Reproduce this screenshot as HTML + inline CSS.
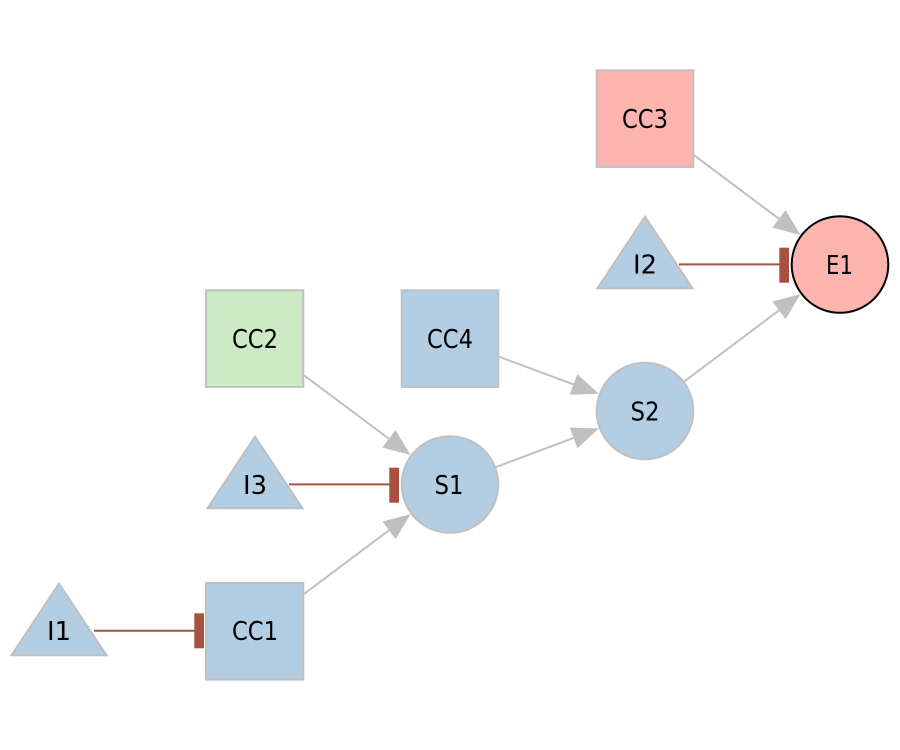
<!DOCTYPE html>
<html>
<head>
<meta charset="utf-8">
<style>
html,body{margin:0;padding:0;background:#ffffff;}
svg{display:block;}
text{font-family:"DejaVu Sans","Liberation Sans",sans-serif;font-size:26px;fill:#000;}
</style>
</head>
<body>
<svg width="900" height="750" viewBox="0 0 900 750" xmlns="http://www.w3.org/2000/svg">
  <rect x="0" y="0" width="900" height="750" fill="#ffffff"/>

  <!-- activation edges -->
  <g stroke="#c0c0c0" stroke-width="2" fill="none">
    <line x1="694" y1="155.2" x2="778.9" y2="218.8"/>
    <line x1="684.4" y1="381.4" x2="779" y2="310.3"/>
    <line x1="499" y1="356.7" x2="573.5" y2="384.4"/>
    <line x1="496.1" y1="467.1" x2="573.6" y2="437.9"/>
    <line x1="304" y1="375.3" x2="388.9" y2="438.8"/>
    <line x1="304" y1="594" x2="389" y2="530.3"/>
  </g>
  <g fill="#c0c0c0" stroke="none">
    <polygon points="800.5,235 772.3,227.6 785.5,210"/>
    <polygon points="800.6,294.1 785.6,319.1 772.4,301.5"/>
    <polygon points="598.8,393.8 569.7,394.7 577.3,374.1"/>
    <polygon points="598.9,428.4 577.5,448.2 569.7,427.6"/>
    <polygon points="410.5,455 382.3,447.6 395.5,430"/>
    <polygon points="410.6,514.1 395.6,539.1 382.4,521.5"/>
  </g>

  <!-- inhibition edges -->
  <g stroke="#aa5241" stroke-width="2">
    <line x1="679" y1="264.4" x2="781" y2="264.4"/>
    <line x1="289" y1="484.4" x2="391" y2="484.4"/>
    <line x1="94" y1="630.7" x2="196" y2="630.7"/>
  </g>
  <g fill="#a95040">
    <rect x="779.3" y="247.7" width="9.7" height="35"/>
    <rect x="389.3" y="467.7" width="9.7" height="35"/>
    <rect x="194.3" y="613.3" width="9.7" height="35"/>
  </g>

  <!-- boxes -->
  <g stroke="#c0c0c0" stroke-width="2">
    <rect x="596.7" y="70.3" width="96.6" height="96.6" fill="#fbb4ae"/>
    <rect x="206" y="290.3" width="97.3" height="96.6" fill="#ccebc5"/>
    <rect x="401.7" y="290.3" width="96.6" height="96.6" fill="#b3cde3"/>
    <rect x="206" y="583" width="97.3" height="96.6" fill="#b3cde3"/>
  </g>

  <!-- triangles -->
  <g stroke="#c0c0c0" stroke-width="2" fill="#b3cde3" stroke-linejoin="miter">
    <polygon points="645,216.5 597.5,288.3 692.5,288.3"/>
    <polygon points="255,436.5 207.5,508.3 302.5,508.3"/>
    <polygon points="59,583.5 11.5,655.3 106.5,655.3"/>
  </g>

  <!-- circles -->
  <circle cx="840" cy="264.5" r="48.3" fill="#fbb4ae" stroke="#000000" stroke-width="2"/>
  <circle cx="645" cy="411" r="48.3" fill="#b3cde3" stroke="#c0c0c0" stroke-width="2"/>
  <circle cx="450" cy="484.5" r="48.3" fill="#b3cde3" stroke="#c0c0c0" stroke-width="2"/>

  <!-- labels -->
  <text x="645" y="128" text-anchor="middle" textLength="46" lengthAdjust="spacingAndGlyphs">CC3</text>
  <text x="839.5" y="274" text-anchor="middle" textLength="27" lengthAdjust="spacingAndGlyphs">E1</text>
  <text x="645" y="273.5" text-anchor="middle" textLength="24" lengthAdjust="spacingAndGlyphs">I2</text>
  <text x="255" y="348" text-anchor="middle" textLength="46" lengthAdjust="spacingAndGlyphs">CC2</text>
  <text x="450" y="348" text-anchor="middle" textLength="46" lengthAdjust="spacingAndGlyphs">CC4</text>
  <text x="645" y="420.7" text-anchor="middle" textLength="29" lengthAdjust="spacingAndGlyphs">S2</text>
  <text x="255" y="494" text-anchor="middle" textLength="24" lengthAdjust="spacingAndGlyphs">I3</text>
  <text x="449" y="494" text-anchor="middle" textLength="29" lengthAdjust="spacingAndGlyphs">S1</text>
  <text x="59" y="640" text-anchor="middle" textLength="24" lengthAdjust="spacingAndGlyphs">I1</text>
  <text x="255" y="640" text-anchor="middle" textLength="46" lengthAdjust="spacingAndGlyphs">CC1</text>
</svg>
</body>
</html>
